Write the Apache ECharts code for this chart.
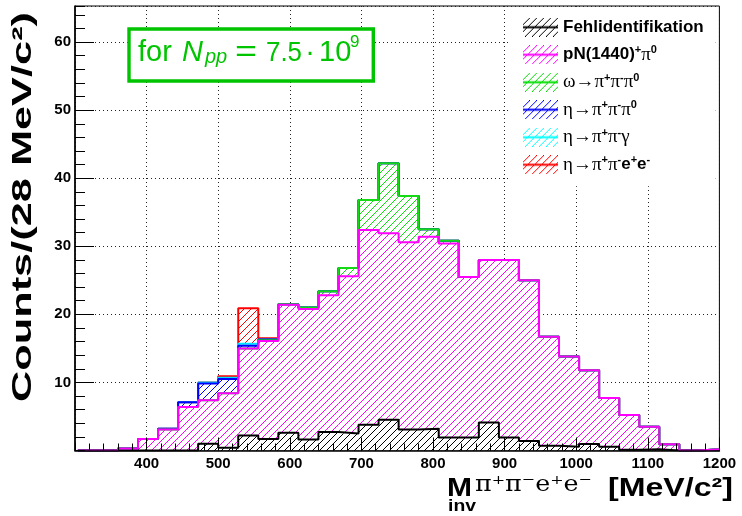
<!DOCTYPE html>
<html><head><meta charset="utf-8">
<script src="https://cdn.jsdelivr.net/npm/echarts@6/dist/echarts.min.js"></script>
<style>html,body{margin:0;padding:0;background:#fff}#c{width:742px;height:516px}</style>
</head><body><div id="c"></div>
<script>
// ---------------- data ----------------
const binLow = [304,332,360,388,416,444,472,500,528,556,584,612,640,668,696,724,752,780,808,836,864,892,920,948,976,1004,1032,1060,1088,1116,1144,1172];
const binWidth = 28;
const fehl     = [0,0,0,0,0,0,1.0,0.4,2.2,1.7,2.6,1.6,2.7,2.5,3.8,4.5,3.1,3.2,1.9,1.9,4.1,1.9,1.4,0.7,0.55,0.95,0.55,0.1,0.2,0,0,0];
const pN1440   = [0,0,0.3,1.7,3.1,6.4,6.4,8.0,12.8,14.4,18.8,19.2,20.1,23.1,28.6,27.4,27.5,28.2,28.5,23.6,23.9,26.1,23.6,16.0,13.25,10.85,7.15,5.1,3.3,0.9,0,0.2];
const omega3pi = [0,0,0,0,0,0,0,0,0,0.1,0.1,0.2,0.6,1.2,4.4,10.3,6.8,1.1,0.4,0,0,0,0,0,0,0,0,0,0,0,0,0];
const eta3pi   = [0,0,0,0,0.1,0.7,2.45,2.1,0.4,0.1,0,0,0,0,0,0,0,0,0,0,0,0,0,0,0,0,0,0,0,0,0,0];
const etaGamma = [0,0,0,0,0,0,0.15,0.2,0.3,0,0,0,0,0,0,0,0,0,0,0,0,0,0,0,0,0,0,0,0,0,0,0];
const etaEE    = [0,0,0,0,0,0,0,0.2,5.2,0.2,0,0,0,0,0,0,0,0,0,0,0,0,0,0,0,0,0,0,0,0,0,0];
const seriesNames = ['Fehlidentifikation','pN(1440)+π0','ω→π+π-π0','η→π+π-π0','η→π+π-γ','η→π+π-e+e-'];
const xRange = [300, 1200];
const yRange = [0, 65.3];

// ---------------- styles ----------------
const hatchColors = ['#000000','#ff00ff','#00e600','#0000ff','#00ffff','#ff0000'];
const lineColors  = ['#000000','#ff00ff','#14d914','#0000ff','#00e5ff','#ff0000'];
const legendRich = [
  '{b|Fehlidentifikation}',
  '{b|pN(1440)}{s|+}{g|π}{s|0}',
  '{g|ω→π}{s|+}{g|π}{s|-}{g|π}{s|0}',
  '{g|η→π}{s|+}{g|π}{s|-}{g|π}{s|0}',
  '{g|η→π}{s|+}{g|π}{s|-}{g|γ}',
  '{g|η→π}{s|+}{g|π}{s|-}{b|e}{s|+}{b|e}{s|-}'
];

function hatchCanvas(color) {
  const s = 7, c = document.createElement('canvas');
  c.width = s; c.height = s;
  const g = c.getContext('2d');
  g.fillStyle = '#fff'; g.fillRect(0, 0, s, s);
  g.strokeStyle = color; g.lineWidth = 1;
  g.beginPath();
  g.moveTo(-1, s + 1); g.lineTo(s + 1, -1);
  g.moveTo(-1, 1); g.lineTo(1, -1);
  g.moveTo(s - 1, s + 1); g.lineTo(s + 1, s - 1);
  g.stroke();
  return c;
}
function legendIcon(color) {
  const w = 35, h = 19, c = document.createElement('canvas');
  c.width = w; c.height = h;
  const g = c.getContext('2d');
  g.strokeStyle = color; g.lineWidth = 1;
  g.beginPath();
  for (let x = -h; x < w + 7; x += 7) { g.moveTo(x, h); g.lineTo(x + h, 0); }
  g.stroke();
  g.lineWidth = 2;
  g.beginPath(); g.moveTo(0, h / 2); g.lineTo(w, h / 2); g.stroke();
  return 'image://' + c.toDataURL();
}
const mctx = document.createElement('canvas').getContext('2d');
function fit(text, font, target) { mctx.font = font; return target / mctx.measureText(text).width; }

// ---------------- stacking ----------------
const layers = [fehl, pN1440, omega3pi, eta3pi, etaGamma, etaEE];
const stacked = [];
let run = binLow.map(() => 0);
layers.forEach(arr => {
  const lo = run.slice();
  const hi = lo.map((v, i) => v + arr[i]);
  stacked.push({ lo, hi });
  run = hi;
});

const series = [];
layers.forEach((arr, k) => {
  const pat = { image: hatchCanvas(hatchColors[k]), repeat: 'repeat' };
  series.push({
    type: 'custom', name: seriesNames[k], xAxisIndex: 0, yAxisIndex: 0, z: 2,
    encode: { x: [0, 1], y: [2, 3] },
    data: binLow.map((x, i) => [x, x + binWidth, stacked[k].lo[i], stacked[k].hi[i]]),
    renderItem(params, api) {
      const lo = api.value(2), hi = api.value(3);
      if (!(hi - lo > 0)) return null;
      const p0 = api.coord([api.value(0), hi]);
      const p1 = api.coord([api.value(1), lo]);
      return { type: 'rect', shape: { x: p0[0], y: p0[1], width: p1[0] - p0[0], height: p1[1] - p0[1] },
               style: { fill: pat, stroke: null } };
    }
  });
});
// outlines: drawn top layer first, magenta last
[5, 4, 3, 2, 0, 1].forEach(k => {
  const d = binLow.map((x, i) => [x, stacked[k].hi[i]]);
  d.push([binLow[binLow.length - 1] + binWidth, stacked[k].hi[binLow.length - 1]]);
  series.push({
    type: 'line', name: seriesNames[k], xAxisIndex: 0, yAxisIndex: 0, z: 3,
    step: 'end', showSymbol: false, symbol: 'none', data: d,
    lineStyle: { color: lineColors[k], width: 2 }, itemStyle: { color: lineColors[k] }
  });
});

const labelFont = { fontFamily: 'Liberation Sans', fontWeight: 'bold', fontSize: 15, color: '#000' };
const gridLine = { show: true, lineStyle: { color: '#222', width: 1, type: [1, 3] } };
const none = { show: false };

const fYt = 'bold 28px "Liberation Sans"';
const yTitle = 'Counts/(28 MeV/c²)';
const fM = 'bold 25px "Liberation Sans"';
const fUnit = 'bold 25px "Liberation Sans"';
const unitTxt = '[MeV/c²]';
const fSup = '22px "DejaVu Serif"';
const supTxt = 'π⁺π⁻e⁺e⁻';
const fInv = 'bold 17px "Liberation Sans"';
const f75 = '28px "Liberation Sans"';
const green = '#00c400';

const option = {
  animation: false,
  backgroundColor: '#fff',
  grid: { left: 75, right: 22.6, top: 6, bottom: 65.5, show: true, borderColor: '#000', borderWidth: 1, backgroundColor: 'transparent' },
  xAxis: [
    { type: 'value', min: xRange[0], max: xRange[1], interval: 100, position: 'bottom', axisLine: none, axisTick: none, axisLabel: none, splitLine: gridLine, z: 0 },
    { type: 'value', min: xRange[0], max: xRange[1], interval: 100, position: 'bottom',
      axisLine: { show: true, onZero: false, lineStyle: { color: '#000', width: 1.6 } },
      axisTick: { show: true, inside: true, length: 13, lineStyle: { color: '#000', width: 1 } },
      axisLabel: Object.assign({ show: true, showMinLabel: false, margin: 6, formatter: v => String(v) }, labelFont),
      splitLine: none, z: 10 },
    { type: 'value', min: xRange[0], max: xRange[1], interval: 20, position: 'bottom', axisLine: none,
      axisTick: { show: true, inside: true, length: 7, lineStyle: { color: '#000', width: 1 } },
      axisLabel: none, splitLine: none, z: 10 }
  ],
  yAxis: [
    { type: 'value', min: yRange[0], max: yRange[1], interval: 10, position: 'left', axisLine: none, axisTick: none, axisLabel: none, splitLine: gridLine, z: 0 },
    { type: 'value', min: yRange[0], max: yRange[1], interval: 10, position: 'left',
      axisLine: { show: true, onZero: false, lineStyle: { color: '#000', width: 1.6 } },
      axisTick: { show: true, inside: true, length: 19, lineStyle: { color: '#000', width: 1 } },
      axisLabel: Object.assign({ show: true, showMinLabel: false, showMaxLabel: false, margin: 4, formatter: v => String(v) }, labelFont),
      splitLine: none, z: 10 },
    { type: 'value', min: yRange[0], max: yRange[1], interval: 2, position: 'left', axisLine: none,
      axisTick: { show: true, inside: true, length: 10, lineStyle: { color: '#000', width: 1 } },
      axisLabel: none, splitLine: none, z: 10 }
  ],
  legend: {
    orient: 'vertical', left: 510, top: 8, padding: [9.7, 12, 12, 13], itemGap: 8,
    itemWidth: 35, itemHeight: 19, backgroundColor: '#fff', borderWidth: 0, selectedMode: false, z: 20,
    data: seriesNames.map((n, k) => ({ name: n, icon: legendIcon(lineColors[k] === '#14d914' ? '#00dd00' : hatchColors[k]) })),
    formatter: n => legendRich[seriesNames.indexOf(n)],
    textStyle: {
      color: '#000',
      rich: {
        b: { fontFamily: 'Liberation Sans', fontWeight: 'bold', fontSize: 17, lineHeight: 20, color: '#000' },
        g: { fontFamily: 'Liberation Serif', fontSize: 19, lineHeight: 20, color: '#000' },
        s: { fontFamily: 'Liberation Sans', fontWeight: 'bold', fontSize: 11, lineHeight: 12, verticalAlign: 'top', color: '#000' }
      }
    }
  },
  graphic: [
    // N_pp box
    { type: 'rect', z: 30, shape: { x: 129, y: 29, width: 244.3, height: 52 }, style: { fill: '#fff', stroke: green, lineWidth: 3.4 } },
    { type: 'text', z: 31, x: 138, y: 53.3, style: { text: 'for', font: '29px "Liberation Sans"', fill: green, align: 'left', verticalAlign: 'middle' } },
    { type: 'text', z: 31, x: 182, y: 53.3, style: { text: 'N', font: 'italic 29px "Liberation Sans"', fill: green, align: 'left', verticalAlign: 'middle' } },
    { type: 'text', z: 31, x: 205, y: 57.8, style: { text: 'pp', font: 'italic 20px "Liberation Sans"', fill: green, align: 'left', verticalAlign: 'middle' } },
    { type: 'text', z: 31, x: 235, y: 53.3, scaleX: 1.3, style: { text: '=', font: '29px "Liberation Sans"', fill: green, align: 'left', verticalAlign: 'middle' } },
    { type: 'text', z: 31, x: 266, y: 53.3, scaleX: fit('7.5', f75, 36), style: { text: '7.5', font: f75, fill: green, align: 'left', verticalAlign: 'middle' } },
    { type: 'text', z: 31, x: 310, y: 53.3, style: { text: '·', font: '29px "Liberation Sans"', fill: green, align: 'center', verticalAlign: 'middle' } },
    { type: 'text', z: 31, x: 319, y: 53.3, style: { text: '10', font: '29px "Liberation Sans"', fill: green, align: 'left', verticalAlign: 'middle' } },
    { type: 'text', z: 31, x: 350, y: 42.4, style: { text: '9', font: '17px "Liberation Sans"', fill: green, align: 'left', verticalAlign: 'middle' } },
    // y axis title
    { type: 'text', z: 31, x: 23, y: 207, rotation: Math.PI / 2, scaleX: fit(yTitle, fYt, 390),
      style: { text: yTitle, font: fYt, fill: '#000', align: 'center', verticalAlign: 'middle' } },
    // x axis title
    { type: 'text', z: 31, x: 447, y: 489.5, scaleX: fit('M', fM, 25),
      style: { text: 'M', font: fM, fill: '#000', align: 'left', verticalAlign: 'middle' } },
    { type: 'text', z: 31, x: 448, y: 506, scaleX: fit('inv', fInv, 28),
      style: { text: 'inv', font: fInv, fill: '#000', align: 'left', verticalAlign: 'middle' } },
    { type: 'text', z: 31, x: 475, y: 485.7, scaleX: fit(supTxt, fSup, 117),
      style: { text: supTxt, font: fSup, fill: '#000', align: 'left', verticalAlign: 'middle' } },
    { type: 'text', z: 31, x: 608, y: 489.5, scaleX: fit(unitTxt, fUnit, 125),
      style: { text: unitTxt, font: fUnit, fill: '#000', align: 'left', verticalAlign: 'middle' } }
  ],
  series: series
};
const chart = echarts.init(document.getElementById('c'), null, { renderer: 'canvas' });
chart.setOption(option);
</script>
</body></html>
